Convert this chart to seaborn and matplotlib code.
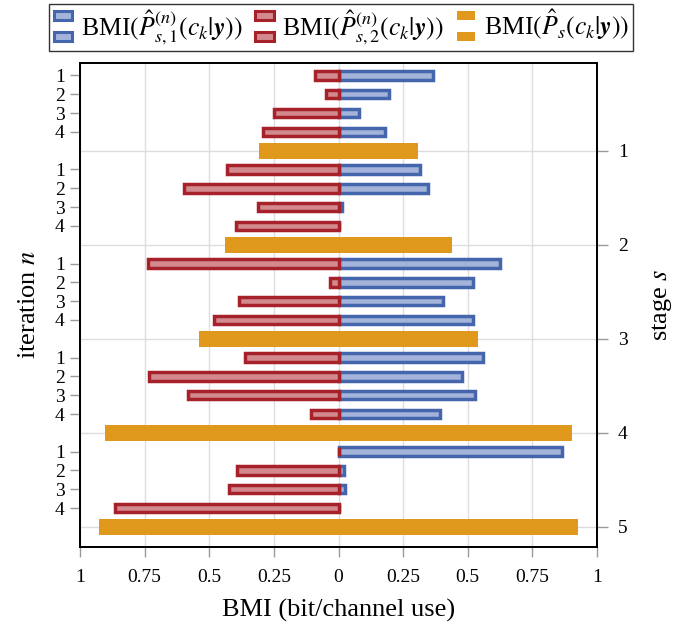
import numpy as np
import pandas as pd
import seaborn as sns
import matplotlib
matplotlib.use("Agg")
import matplotlib.pyplot as plt
from matplotlib.patches import Rectangle, Patch
from matplotlib.legend_handler import HandlerBase

# ---------------- data ----------------
stages = [1, 2, 3, 4, 5]
iterations = [1, 2, 3, 4]
# BMI(P_{s,1}^{(n)}) per stage (rows) and iteration (cols) -> right (blue)
bmi_p1 = [
    [0.366, 0.196, 0.081, 0.180],
    [0.315, 0.348, 0.015, 0.000],
    [0.626, 0.519, 0.405, 0.521],
    [0.558, 0.479, 0.528, 0.392],
    [0.863, 0.021, 0.026, 0.000],
]
# BMI(P_{s,2}^{(n)}) -> left (red)
bmi_p2 = [
    [0.090, 0.047, 0.249, 0.294],
    [0.432, 0.597, 0.312, 0.398],
    [0.738, 0.033, 0.384, 0.483],
    [0.363, 0.733, 0.583, 0.105],
    [0.000, 0.394, 0.423, 0.866],
]
# BMI(P_s) per stage (orange, drawn on both sides)
bmi_ps = [0.307, 0.440, 0.540, 0.903, 0.928]
x_ticks = [-1, -0.75, -0.5, -0.25, 0, 0.25, 0.5, 0.75, 1]
x_ticklabels = ["1", "0.75", "0.5", "0.25", "0", "0.25", "0.5", "0.75", "1"]

# ---------------- styling ----------------
plt.rcParams["font.family"] = ["Liberation Serif", "DejaVu Serif"]
plt.rcParams["mathtext.fontset"] = "stix"

BLUE_E, BLUE_F = "#4565AD", "#A3B3D9"
RED_E, RED_F = "#A6212A", "#D28A8F"
ORANGE = "#E0991D"

# build tables
rows_it, rows_st = [], []
for si, s in enumerate(stages):
    for ni, n in enumerate(iterations):
        pos = si * 5 + ni
        rows_it.append(dict(pos=pos, stage=s, it=n, p1=bmi_p1[si][ni], p2=-bmi_p2[si][ni]))
    rows_st.append(dict(pos=si * 5 + 4, stage=s, ps=bmi_ps[si]))
df_it = pd.DataFrame(rows_it)
df_st = pd.DataFrame(rows_st)
df_st_l = df_st.assign(ps=-df_st["ps"])

fig = plt.figure(figsize=(6.86, 6.25), dpi=100)
W, H = 686, 625
ax = fig.add_axes([80 / W, 1 - 547 / H, 517 / W, 484 / H])

lw_bar = 2.5
ow = 0.84 / 5
sns.barplot(data=df_st, x="ps", y="pos", orient="h", native_scale=True, width=ow,
            color=ORANGE, saturation=1, linewidth=0, errorbar=None, ax=ax, zorder=2)
sns.barplot(data=df_st_l, x="ps", y="pos", orient="h", native_scale=True, width=ow,
            color=ORANGE, saturation=1, linewidth=0, errorbar=None, ax=ax, zorder=2)
sns.barplot(data=df_it, x="p1", y="pos", orient="h", native_scale=True, width=0.45,
            color=BLUE_F, saturation=1, edgecolor=BLUE_E, linewidth=lw_bar,
            errorbar=None, ax=ax, zorder=3)
sns.barplot(data=df_it, x="p2", y="pos", orient="h", native_scale=True, width=0.45,
            color=RED_F, saturation=1, edgecolor=RED_E, linewidth=lw_bar,
            errorbar=None, ax=ax, zorder=4)

ax.set_xlim(-1, 1)
ax.set_ylim(25.07, -0.66)
ax.set_xticks(x_ticks)
ax.set_xticklabels(x_ticklabels)
ax.set_yticks(df_it["pos"].tolist())
ax.set_yticklabels([str(n) for n in df_it["it"]])
ax.grid(False)
for xv in x_ticks:
    ax.axvline(xv, color="#dddddd", lw=1, zorder=0)
for p in df_st["pos"]:
    ax.axhline(p, color="#dddddd", lw=1, zorder=0)

ax.tick_params(axis="y", length=7, width=1, color="#9a9a9a", labelsize=14, pad=4)
ax.tick_params(axis="x", length=7, width=1, color="#9a9a9a", labelsize=14, pad=9)
for sp in ax.spines.values():
    sp.set_linewidth(1.3)
    sp.set_color("black")
ax.set_xlabel("BMI (bit/channel use)", fontsize=19, labelpad=9)
ax.set_ylabel("iteration $n$", fontsize=19, labelpad=11)

ax2 = ax.twinx()
ax2.set_ylim(ax.get_ylim())
ax2.set_yticks(df_st["pos"].tolist())
ax2.set_yticklabels([str(s) for s in df_st["stage"]])
ax2.tick_params(axis="y", length=8, width=1, color="#9a9a9a", labelsize=14, pad=7)
for sp in ax2.spines.values():
    sp.set_linewidth(1.3)
ax2.set_ylabel("stage $s$", fontsize=19, labelpad=16, rotation=90)


class TwoBars(HandlerBase):
    def __init__(self, fc, ec, lw):
        super().__init__()
        self.fc, self.ec, self.lw = fc, ec, lw

    def create_artists(self, legend, orig_handle, xdescent, ydescent, width, height,
                       fontsize, trans):
        w = width * 0.9
        h = height * 0.5
        x0 = -xdescent + (width - w) / 2
        arts = []
        for y0 in (-ydescent + height * 0.85, -ydescent - height * 0.3):
            r = Rectangle((x0, y0), w, h, facecolor=self.fc, edgecolor=self.ec,
                          linewidth=self.lw, transform=trans)
            arts.append(r)
        return arts


h1, h2, h3 = Patch(), Patch(), Patch()
labels = [r"BMI$(\hat{P}_{s,1}^{(n)}(c_k|\boldsymbol{y}))$",
          r"BMI$(\hat{P}_{s,2}^{(n)}(c_k|\boldsymbol{y}))$",
          r"BMI$(\hat{P}_{s}(c_k|\boldsymbol{y}))$"]
leg = fig.legend([h1, h2, h3], labels, ncol=3, loc="upper center",
                 bbox_to_anchor=(341 / W, 1 - 1 / H), frameon=True, fancybox=False,
                 edgecolor="black", fontsize=18.5, handlelength=0.8, handletextpad=0.3,
                 columnspacing=0.45, borderpad=0.15, borderaxespad=0.1,
                 handler_map={h1: TwoBars(BLUE_F, BLUE_E, 2.2),
                              h2: TwoBars(RED_F, RED_E, 2.2),
                              h3: TwoBars(ORANGE, ORANGE, 0)})
leg.get_frame().set_linewidth(1.0)

fig.savefig("out.png", dpi=100)
